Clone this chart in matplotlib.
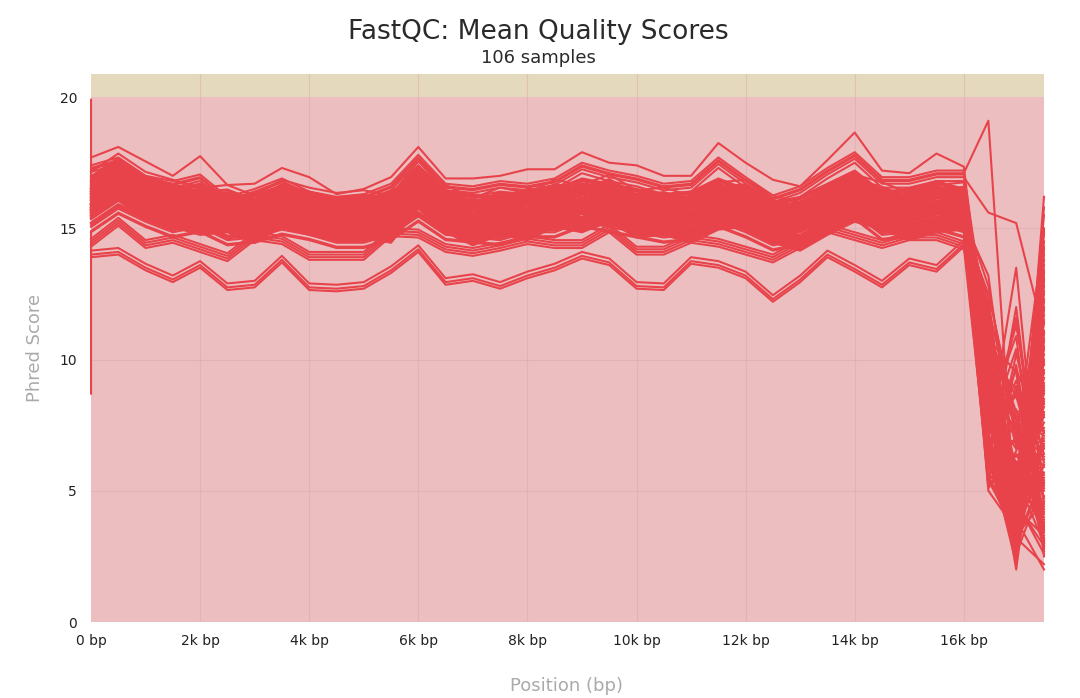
import matplotlib
matplotlib.use("Agg")
import matplotlib.pyplot as plt
import numpy as np

# ---------------- data ----------------
positions = [1, 500, 1000, 1500, 2000, 2500, 3000, 3500, 4000, 4500, 5000, 5500,
             6000, 6500, 7000, 7500, 8000, 8500, 9000, 9500, 10000, 10500, 11000,
             11500, 12000, 12500, 13000, 13500, 14000, 14500, 15000, 15500, 16000]
tail_positions = [16450, 16960, 17470]

profile_top = [17.7, 18.1, 17.55, 17.0, 17.75, 16.65, 16.7, 17.3, 16.95, 16.3, 16.5,
               16.95, 18.1, 16.9, 16.9, 17.0, 17.25, 17.25, 17.9, 17.5, 17.4, 17.0,
               17.0, 18.25, 17.5, 16.85, 16.6, 17.6, 18.65, 17.2, 17.1, 17.85, 17.35]
profile_upper = [17.3, 17.6, 16.9, 16.7, 16.95, 16.1, 16.4, 16.8, 16.3, 16.1, 16.2,
                 16.6, 17.7, 16.6, 16.5, 16.7, 16.6, 16.8, 17.4, 17.1, 16.9, 16.6,
                 16.7, 17.6, 16.85, 16.15, 16.5, 17.2, 17.8, 16.85, 16.85, 17.1, 17.1]
profile_center_a = [15.8, 16.5, 16.0, 15.6, 15.8, 15.3, 15.4, 15.7, 15.5, 15.2, 15.2,
                    15.5, 16.2, 15.5, 15.4, 15.3, 15.6, 15.6, 16.0, 15.8, 15.6, 15.4,
                    15.5, 16.0, 15.6, 15.1, 15.3, 15.8, 16.3, 15.5, 15.6, 15.9, 15.6]
profile_center_b = [16.2, 16.9, 16.2, 15.9, 15.6, 15.7, 15.3, 15.9, 15.6, 15.4, 15.5,
                    15.3, 16.6, 15.7, 15.2, 15.6, 15.4, 15.9, 15.7, 16.1, 15.5, 15.6,
                    15.3, 15.8, 15.9, 15.3, 15.0, 15.6, 16.1, 15.8, 15.4, 15.7, 15.8]
profile_lower = [14.4, 15.2, 14.35, 14.55, 14.2, 13.85, 14.65, 14.5, 13.9, 13.9, 13.9,
                 14.8, 14.75, 14.2, 14.05, 14.25, 14.5, 14.35, 14.35, 14.95, 14.1, 14.1,
                 14.55, 14.4, 14.1, 13.8, 14.35, 14.95, 14.65, 14.35, 14.65, 14.65, 14.3]
profile_bottom = [14.1, 14.2, 13.6, 13.15, 13.7, 12.85, 12.95, 13.9, 12.85, 12.8, 12.9,
                  13.5, 14.3, 13.05, 13.2, 12.9, 13.3, 13.6, 14.05, 13.8, 12.9, 12.85,
                  13.85, 13.7, 13.3, 12.4, 13.15, 14.1, 13.55, 12.95, 13.8, 13.55, 14.5]

# sample composition: profile code + level shift
top_shifts = [0.0]
bottom_shifts = [0.05, -0.1, -0.2]
lower_shifts = [0.0, 0.1, -0.1, 0.2]
upper_shifts = [0.0, -0.15, 0.1, -0.3, -0.05]
center_shapes = ("abbabaabba" "babbaabab" "aabbabbaab" "abaabbaba"
                 "bbabaabbab" "aababbaab" "babaabbaba" "abbaababb"
                 "aabbabab" "babaabbaab" "abb")
center_shifts = [
    0.0, 0.3, -0.3, 0.6, -0.6, 0.15, -0.15, 0.45, -0.45, 0.8,
    -0.8, 0.05, -0.05, 0.25, -0.25, 0.5, -0.5, 0.7, -0.7, 0.1,
    -0.1, 0.35, -0.35, 0.55, -0.55, 0.2, -0.2, 0.4, -0.4, 0.65,
    -0.65, 0.9, -0.9, 0.12, -0.12, 0.28, -0.28, 0.48, -0.48, 0.75,
    -0.75, 0.02, -0.02, 0.38, -0.38, 0.58, -0.58, 0.18, -0.18, 0.85,
    -0.85, 0.08, -0.08, 0.32, -0.32, 0.52, -0.52, 0.68, -0.68, 0.22,
    -0.22, 0.42, -0.42, 0.62, -0.62, 0.95, -0.95, 0.14, -0.14, 0.3,
    -0.3, 0.5, -0.5, 0.72, -0.72, 0.06, -0.06, 0.26, -0.26, 0.44,
    -0.44, 0.6, -0.6, 0.78, -0.78, 0.16, -0.16, 0.36, -0.36, 0.54,
    -0.54, 0.1, -0.1]

tail_1 = [
    9.5, 6.2, 7.8, 10.4, 5.6, 8.9, 11.2, 6.8, 19.1, 15.6,
    5.2, 8.4, 10.8, 6.5, 7.7, 12.1, 9.8, 5.9, 8.1, 7.0,
    10.2, 6.0, 9.3, 11.6, 7.5, 5.4, 8.7, 10.0, 6.6, 9.0,
    7.9, 12.4, 5.8, 8.2, 10.6, 6.3, 7.1, 9.6, 11.0, 5.5,
    8.6, 6.9, 10.3, 7.4, 9.4, 5.7, 11.8, 8.0, 6.4, 9.9,
    7.2, 10.9, 5.3, 8.8, 6.7, 12.8, 9.2, 7.6, 5.0, 10.5,
    8.3, 6.1, 11.4, 7.0, 9.7, 5.9, 8.5, 10.1, 6.8, 13.2,
    7.8, 9.0, 5.6, 11.1, 8.0, 6.5, 10.7, 7.3, 9.5, 5.4,
    12.0, 8.9, 6.2, 10.4, 7.7, 9.1, 5.8, 11.5, 8.2, 6.9,
    10.0, 7.5, 9.8, 5.1, 8.6, 12.5, 6.6, 10.2, 7.2, 9.3,
    8.4, 6.0, 11.3, 7.9, 9.6, 5.5]
tail_2 = [
    4.5, 6.9, 3.2, 8.6, 5.1, 2.8, 7.3, 4.2, 3.5, 15.2,
    6.4, 4.0, 9.5, 2.5, 7.2, 4.8, 3.4, 12.0, 5.7, 3.8,
    2.9, 8.8, 4.5, 3.1, 6.1, 10.2, 4.2, 5.9, 2.2, 7.8,
    5.0, 3.6, 9.0, 6.6, 2.7, 11.6, 4.4, 7.5, 3.3, 5.3,
    8.1, 2.4, 4.7, 7.5, 3.9, 6.1, 2.6, 10.9, 4.7, 5.0,
    3.0, 7.8, 9.8, 2.3, 4.3, 6.9, 4.1, 8.6, 3.5, 5.5,
    2.0, 7.0, 4.9, 13.5, 3.8, 6.3, 5.1, 2.9, 9.2, 5.2,
    4.3, 7.3, 3.1, 8.0, 4.6, 2.7, 6.7, 10.4, 4.6, 3.4,
    7.4, 5.8, 2.5, 4.9, 11.3, 3.2, 7.0, 4.0, 5.6, 2.8,
    8.9, 4.4, 3.7, 6.5, 4.5, 7.7, 2.6, 5.4, 9.6, 3.3,
    5.0, 7.6, 2.4, 6.0, 4.2, 3.9]
tail_3 = [
    12.5, 3.8, 9.6, 5.1, 14.2, 7.3, 3.0, 11.4, 6.0, 11.0,
    4.4, 10.2, 2.9, 13.1, 5.6, 8.7, 12.0, 3.5, 9.9, 6.8,
    14.8, 4.1, 7.9, 11.7, 3.2, 6.4, 13.6, 5.3, 10.5, 2.7,
    8.2, 15.8, 4.7, 6.9, 12.8, 3.4, 9.3, 5.9, 14.0, 7.6,
    3.1, 11.0, 8.5, 4.3, 13.3, 6.2, 10.8, 2.5, 9.0, 15.0,
    5.5, 7.1, 3.6, 12.2, 8.9, 4.8, 14.5, 6.6, 11.9, 3.0,
    10.0, 5.0, 8.0, 2.8, 13.8, 7.4, 4.0, 16.2, 6.1, 9.5,
    3.3, 12.6, 5.7, 8.3, 2.6, 11.1, 14.9, 4.5, 7.0, 10.7,
    6.3, 3.9, 13.0, 9.1, 5.2, 2.2, 7.8, 15.5, 4.2, 11.5,
    3.7, 8.8, 6.7, 12.3, 2.9, 9.8, 5.4, 14.3, 7.2, 4.6,
    10.4, 3.1, 13.4, 6.0, 8.4, 2.0]

# samples whose very first base differs strongly
lead_samples = [20, 45]
lead_scores = [19.9, 8.7]
lead_position = 1

title = "FastQC: Mean Quality Scores"
subtitle = "106 samples"
xtick_vals = [0, 2000, 4000, 6000, 8000, 10000, 12000, 14000, 16000]
xtick_labels = ["0 bp", "2k bp", "4k bp", "6k bp", "8k bp", "10k bp", "12k bp",
                "14k bp", "16k bp"]
ytick_vals = [0, 5, 10, 15, 20]

# ---------------- build series ----------------
profiles = {"a": profile_center_a, "b": profile_center_b}
body = []
for s in top_shifts:
    body.append(np.array(profile_top) + s)
for s in bottom_shifts:
    body.append(np.array(profile_bottom) + s)
for s in lower_shifts:
    body.append(np.array(profile_lower) + s)
for s in upper_shifts:
    body.append(np.array(profile_upper) + s)
for code, s in zip(center_shapes, center_shifts):
    body.append(np.array(profiles[code]) + s)

# ---------------- figure ----------------
LINE = "#e8434b"
PINK = "#ecbec0"
TAN = "#e5d9bd"
GRID = "#d9a9ac"

fig = plt.figure(figsize=(10.8, 6.98), dpi=100)
ax = fig.add_axes([91 / 1080, 1 - 622 / 698, (1044 - 91) / 1080, (622 - 74) / 698])
ax.set_xlim(0, 17470)
ax.set_ylim(0, 20.88)

ax.axhspan(0, 20, color=PINK, zorder=0, lw=0)
ax.axhspan(20, 20.88, color=TAN, zorder=0, lw=0)

for xv in xtick_vals[1:]:
    ax.axvline(xv, color=GRID, lw=0.8, zorder=1, alpha=0.5)
for yv in ytick_vals[1:4]:
    ax.axhline(yv, color=GRID, lw=0.8, zorder=1, alpha=0.5)

x_all = positions + tail_positions
for i, series in enumerate(body):
    ys = list(series) + [tail_1[i], tail_2[i], tail_3[i]]
    xs = list(x_all)
    if i in lead_samples:
        xs = [lead_position] + xs
        ys = [lead_scores[lead_samples.index(i)]] + ys
    ax.plot(xs, ys, color=LINE, lw=1.5, zorder=3, clip_on=False)

for sp in ax.spines.values():
    sp.set_visible(False)
ax.set_xticks(xtick_vals)
ax.set_xticklabels(xtick_labels)
ax.set_yticks(ytick_vals)
ax.set_yticklabels([str(v) for v in ytick_vals])
ax.tick_params(axis="both", length=0, labelsize=10, colors="#222222")
ax.tick_params(axis="x", pad=9)
ax.tick_params(axis="y", pad=10)

fig.text(538 / 1080, 1 - 32 / 698, title, ha="center", va="center",
         fontsize=19, color="#2a2a2a")
fig.text(538 / 1080, 1 - 58 / 698, subtitle, ha="center", va="center",
         fontsize=13, color="#2a2a2a")
fig.text(35 / 1080, 1 - 348 / 698, "Phred Score", ha="center", va="center",
         rotation=90, fontsize=13, color="#aaaaaa")
fig.text(567 / 1080, 1 - 686 / 698, "Position (bp)", ha="center", va="center",
         fontsize=13, color="#aaaaaa")

fig.savefig("out.png", dpi=100, facecolor="white")
